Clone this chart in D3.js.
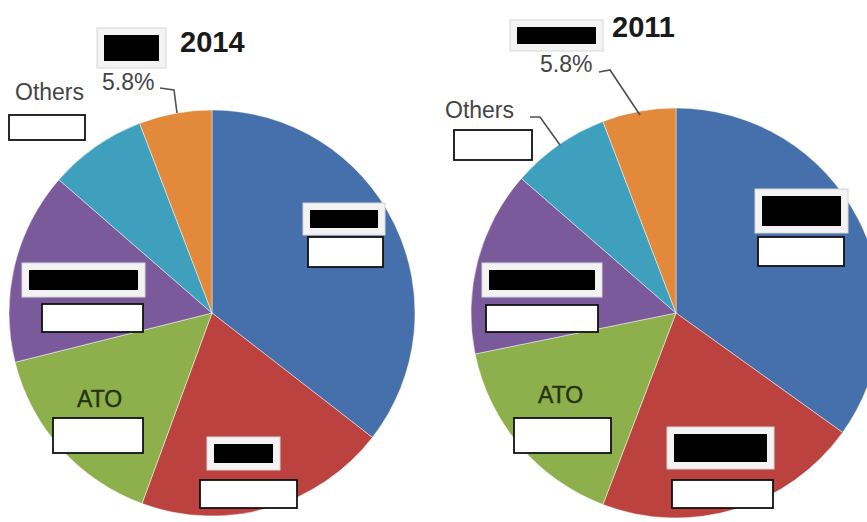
<!DOCTYPE html>
<html>
<head>
<meta charset="utf-8">
<script src="https://cdn.jsdelivr.net/npm/d3@7"></script>
<style>
  body { margin: 0; background: #fff; }
  svg { display: block; }
</style>
</head>
<body>
<svg id="chart"></svg>
<script>
const width = 867, height = 522

// data (clockwise from 12 o'clock)
const categories = ["(hidden 1)", "(hidden 2)", "ATO", "(hidden 3)", "Others", "(hidden 4)"]
const years = ["2014", "2011"]
const values2014 = [35.5, 20.1, 15.5, 15.3, 7.8, 5.8]
const values2011 = [34.9, 20.9, 16.0, 14.6, 7.8, 5.8]
const colors = ["#4570ab", "#bc4240", "#8eb04c", "#7b5a9b", "#3fa0bd", "#e2893b"]

// layout of each pie, labels are offsets from the pie centre
const pies = [
    {
        year: years[0], values: values2014, cx: 212, cy: 313, r: 203,
        title: [-32, -261],
        frames: [[-115, -285, 69, 40], [91, -110, 82, 32], [-190, -50, 123, 34], [-5, 124, 73, 33]],
        blanks: [[-203, -198, 76, 25], [96, -76, 75, 30], [-170, -9, 101, 28], [-159, 105, 90, 35], [-12, 167, 97, 28]],
        texts: [
            { t: "5.8%", x: -110, y: -223 },
            { t: "Others", x: -197, y: -213 },
            { t: "ATO", x: -135, y: 94, dark: true }
        ],
        hidden: { x: 1, y: 182 },
        leaders: [[[-52, -225], [-38, -223], [-35, -200]]]
    },
    {
        year: years[1], values: values2011, cx: 676, cy: 313, r: 205,
        title: [-64, -276],
        frames: [[-166, -293, 93, 31], [79, -124, 93, 44], [-194, -50, 120, 34], [-9, 114, 107, 42]],
        blanks: [[-222, -183, 78, 30], [82, -76, 86, 29], [-190, -8, 112, 27], [-162, 105, 97, 35], [-4, 167, 101, 28]],
        texts: [
            { t: "5.8%", x: -136, y: -241 },
            { t: "Others", x: -231, y: -195 },
            { t: "ATO", x: -138, y: 90, dark: true }
        ],
        hidden: { x: 5, y: 182 },
        leaders: [[[-77, -241], [-66, -243], [-36, -198]], [[-146, -196], [-136, -196], [-116, -168]]]
    }
]

const svg = d3.select("#chart")
    .attr("width", width)
    .attr("height", height)

const pie = d3.pie().sort(null).value(d => d)

for (let p of pies) {
    let g = svg.append("g").attr("transform", `translate(${p.cx},${p.cy})`)
    let arc = d3.arc().innerRadius(0).outerRadius(p.r)

    g.append("g")
        .selectAll("path")
        .data(pie(p.values))
        .enter()
        .append("path")
        .attr("d", arc)
        .attr("fill", (d, i) => colors[i])
        .attr("stroke", "#ffffff")
        .attr("stroke-opacity", 0.45)
        .attr("stroke-width", 1)
        .call(path => path.append("title").text((d, i) => categories[i] + ": " + d.data + "%"))

    // leader lines
    g.append("g")
        .selectAll("path")
        .data(p.leaders)
        .enter()
        .append("path")
        .attr("d", d3.line())
        .attr("fill", "none")
        .attr("stroke", "#505050")
        .attr("stroke-width", 1.6)

    g.append("text")
        .attr("x", p.title[0])
        .attr("y", p.title[1])
        .attr("font-family", "Liberation Sans, Arial, sans-serif")
        .attr("font-weight", "bold")
        .attr("font-size", 29)
        .attr("fill", "#1a1a1a")
        .text(p.year)

    g.append("g")
        .selectAll("text")
        .data(p.texts)
        .enter()
        .append("text")
        .attr("x", d => d.x)
        .attr("y", d => d.y)
        .attr("font-family", "Liberation Sans, Arial, sans-serif")
        .attr("font-size", 23)
        .attr("fill", d => d.dark ? "#26330f" : "#444444")
        .attr("stroke", d => d.dark ? "#26330f" : "none")
        .attr("stroke-width", 0.4)
        .text(d => d.t)

    // hidden red slice value, mostly covered
    g.append("text")
        .attr("x", p.hidden.x)
        .attr("y", p.hidden.y)
        .attr("font-family", "Liberation Sans, Arial, sans-serif")
        .attr("font-weight", "bold")
        .attr("font-size", 22)
        .attr("fill", "#5a1212")
        .text(p.values[1].toFixed(1) + "%")

    // redacted labels: light frame with black bar
    let fr = g.append("g")
        .selectAll("g")
        .data(p.frames)
        .enter()
        .append("g")
    fr.append("rect")
        .attr("x", d => d[0]).attr("y", d => d[1])
        .attr("width", d => d[2]).attr("height", d => d[3])
        .attr("fill", "#f3f3f3")
        .attr("stroke", "#d6d6d6")
        .attr("stroke-width", 1)
    fr.append("rect")
        .attr("x", d => d[0] + 7).attr("y", d => d[1] + 7)
        .attr("width", d => d[2] - 14).attr("height", d => d[3] - 14)
        .attr("fill", "#000")

    // blank value boxes
    g.append("g")
        .selectAll("rect")
        .data(p.blanks)
        .enter()
        .append("rect")
        .attr("x", d => d[0]).attr("y", d => d[1])
        .attr("width", d => d[2]).attr("height", d => d[3])
        .attr("fill", "#fff")
        .attr("stroke", "#111")
        .attr("stroke-width", 1.8)
}
</script>
</body>
</html>
